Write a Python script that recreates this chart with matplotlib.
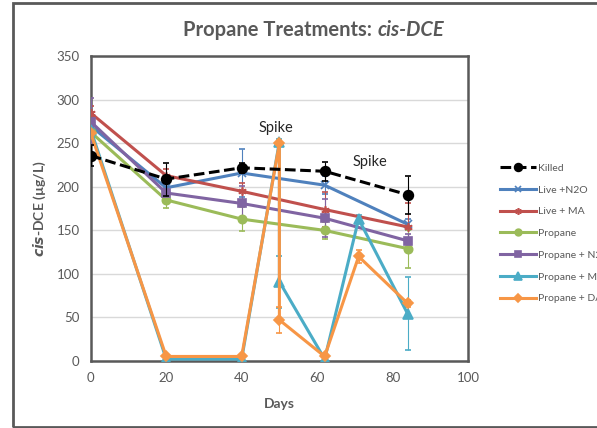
import matplotlib.pyplot as plt
from matplotlib.lines import Line2D
from matplotlib.patches import Rectangle

plt.rcParams['font.family'] = ['Lato', 'DejaVu Sans']

days = [0, 20, 40, 62, 84]
days_spike = [0, 20, 40, 50, 50, 62, 71, 84]

killed = [236, 209, 222, 218, 191]
killed_err = [12, 19, 6, 11, 22]
live_n2o = [270, 199, 216, 202, 157]
live_n2o_err = [10, 8, 28, 10, 6]
live_ma = [285, 213, 195, 174, 154]
live_ma_err = [8, 8, 10, 20, 28]
propane = [263, 185, 163, 150, 129]
propane_err = [6, 9, 14, 10, 22]
propane_n2o = [275, 193, 181, 164, 138]
propane_n2o_err = [27, 6, 20, 22, 8]
propane_ma = [266, 2, 2, 252, 91, 2, 163, 54]
propane_ma_err = [6, 0, 0, 3, 30, 0, 5, 42]
propane_dap = [262, 5, 5, 250, 47, 5, 120, 66]
propane_dap_err = [6, 0, 0, 3, 15, 0, 8, 4]

grey = '#595959'

fig = plt.figure(figsize=(5.97, 4.28), dpi=100)
fig.patch.set_facecolor('white')
ax = fig.add_axes([0.152, 0.157, 0.632, 0.711])

handles = {}

def plot_series(x, y, err, color, marker, label, ms=6, ls='-', lw=2.2, zorder=3):
    style = dict(color=color, marker=marker, markersize=ms, linestyle=ls,
                 linewidth=lw, markeredgecolor=color, markeredgewidth=1.2)
    ax.errorbar(x, y, yerr=err, elinewidth=0.8, capsize=2.5, capthick=0.8,
                ecolor=color, zorder=zorder, **style)
    handles[label] = Line2D([], [], **style)

plot_series(days, live_n2o, live_n2o_err, '#4F81BD', 'x', 'Live +N2O')
plot_series(days, live_ma, live_ma_err, '#C0504D', (6, 2, 0), 'Live + MA')
plot_series(days, propane, propane_err, '#9BBB59', 'o', 'Propane')
plot_series(days, propane_n2o, propane_n2o_err, '#8064A2', 's', 'Propane + N2O')
plot_series(days_spike, propane_ma, propane_ma_err, '#4BACC6', '^', 'Propane + MA', ms=7)
plot_series(days_spike, propane_dap, propane_dap_err, '#F79646', 'D', 'Propane + DAP', ms=5)
plot_series(days, killed, killed_err, 'black', 'o', 'Killed', ms=7, ls=(0, (3.5, 1.5)),
            lw=2.2, zorder=4)

ax.set_xlim(0, 100)
ax.set_ylim(0, 350)
ax.set_xticks(range(0, 101, 20))
ax.set_yticks(range(0, 351, 50))
ax.yaxis.grid(True, color='#d9d9d9', linewidth=1)
ax.set_axisbelow(True)
ax.tick_params(length=0, labelsize=9.5, colors=grey, pad=8)
for side in ax.spines.values():
    side.set_color(grey)
    side.set_linewidth(1.8)

ax.set_xlabel('Days', fontsize=10, fontweight='bold', color=grey, labelpad=10)
ax.set_ylabel(r'$\mathbfit{cis}$' + '-DCE (µg/L)', fontsize=10, fontweight='bold',
              color=grey, labelpad=6)

ax.text(49, 268, 'Spike', fontsize=10.5, color='#262626', ha='center', va='center')
ax.text(74, 229, 'Spike', fontsize=10.5, color='#262626', ha='center', va='center')

fig.text(0.632, 0.93, 'Propane Treatments: ', fontsize=14.5, fontweight='bold',
         color=grey, ha='right', va='center')
fig.text(0.632, 0.93, 'cis-DCE', fontsize=14.5, fontweight='bold', style='italic',
         color=grey, ha='left', va='center')

order = ['Killed', 'Live +N2O', 'Live + MA', 'Propane', 'Propane + N2O',
         'Propane + MA', 'Propane + DAP']
leg = fig.legend([handles[k] for k in order], order,
                 loc='upper left', bbox_to_anchor=(0.822, 0.64), frameon=False,
                 fontsize=7.5, handlelength=3.4, handletextpad=0.2,
                 labelspacing=1.2, markerscale=0.8)
for t in leg.get_texts():
    t.set_color(grey)

fig.patches.append(Rectangle((13 / 597, 1.5 / 428), 1.0, 1 - 4.5 / 428,
                             transform=fig.transFigure, fill=False,
                             edgecolor=grey, linewidth=2))

fig.savefig('out.png', dpi=100)
